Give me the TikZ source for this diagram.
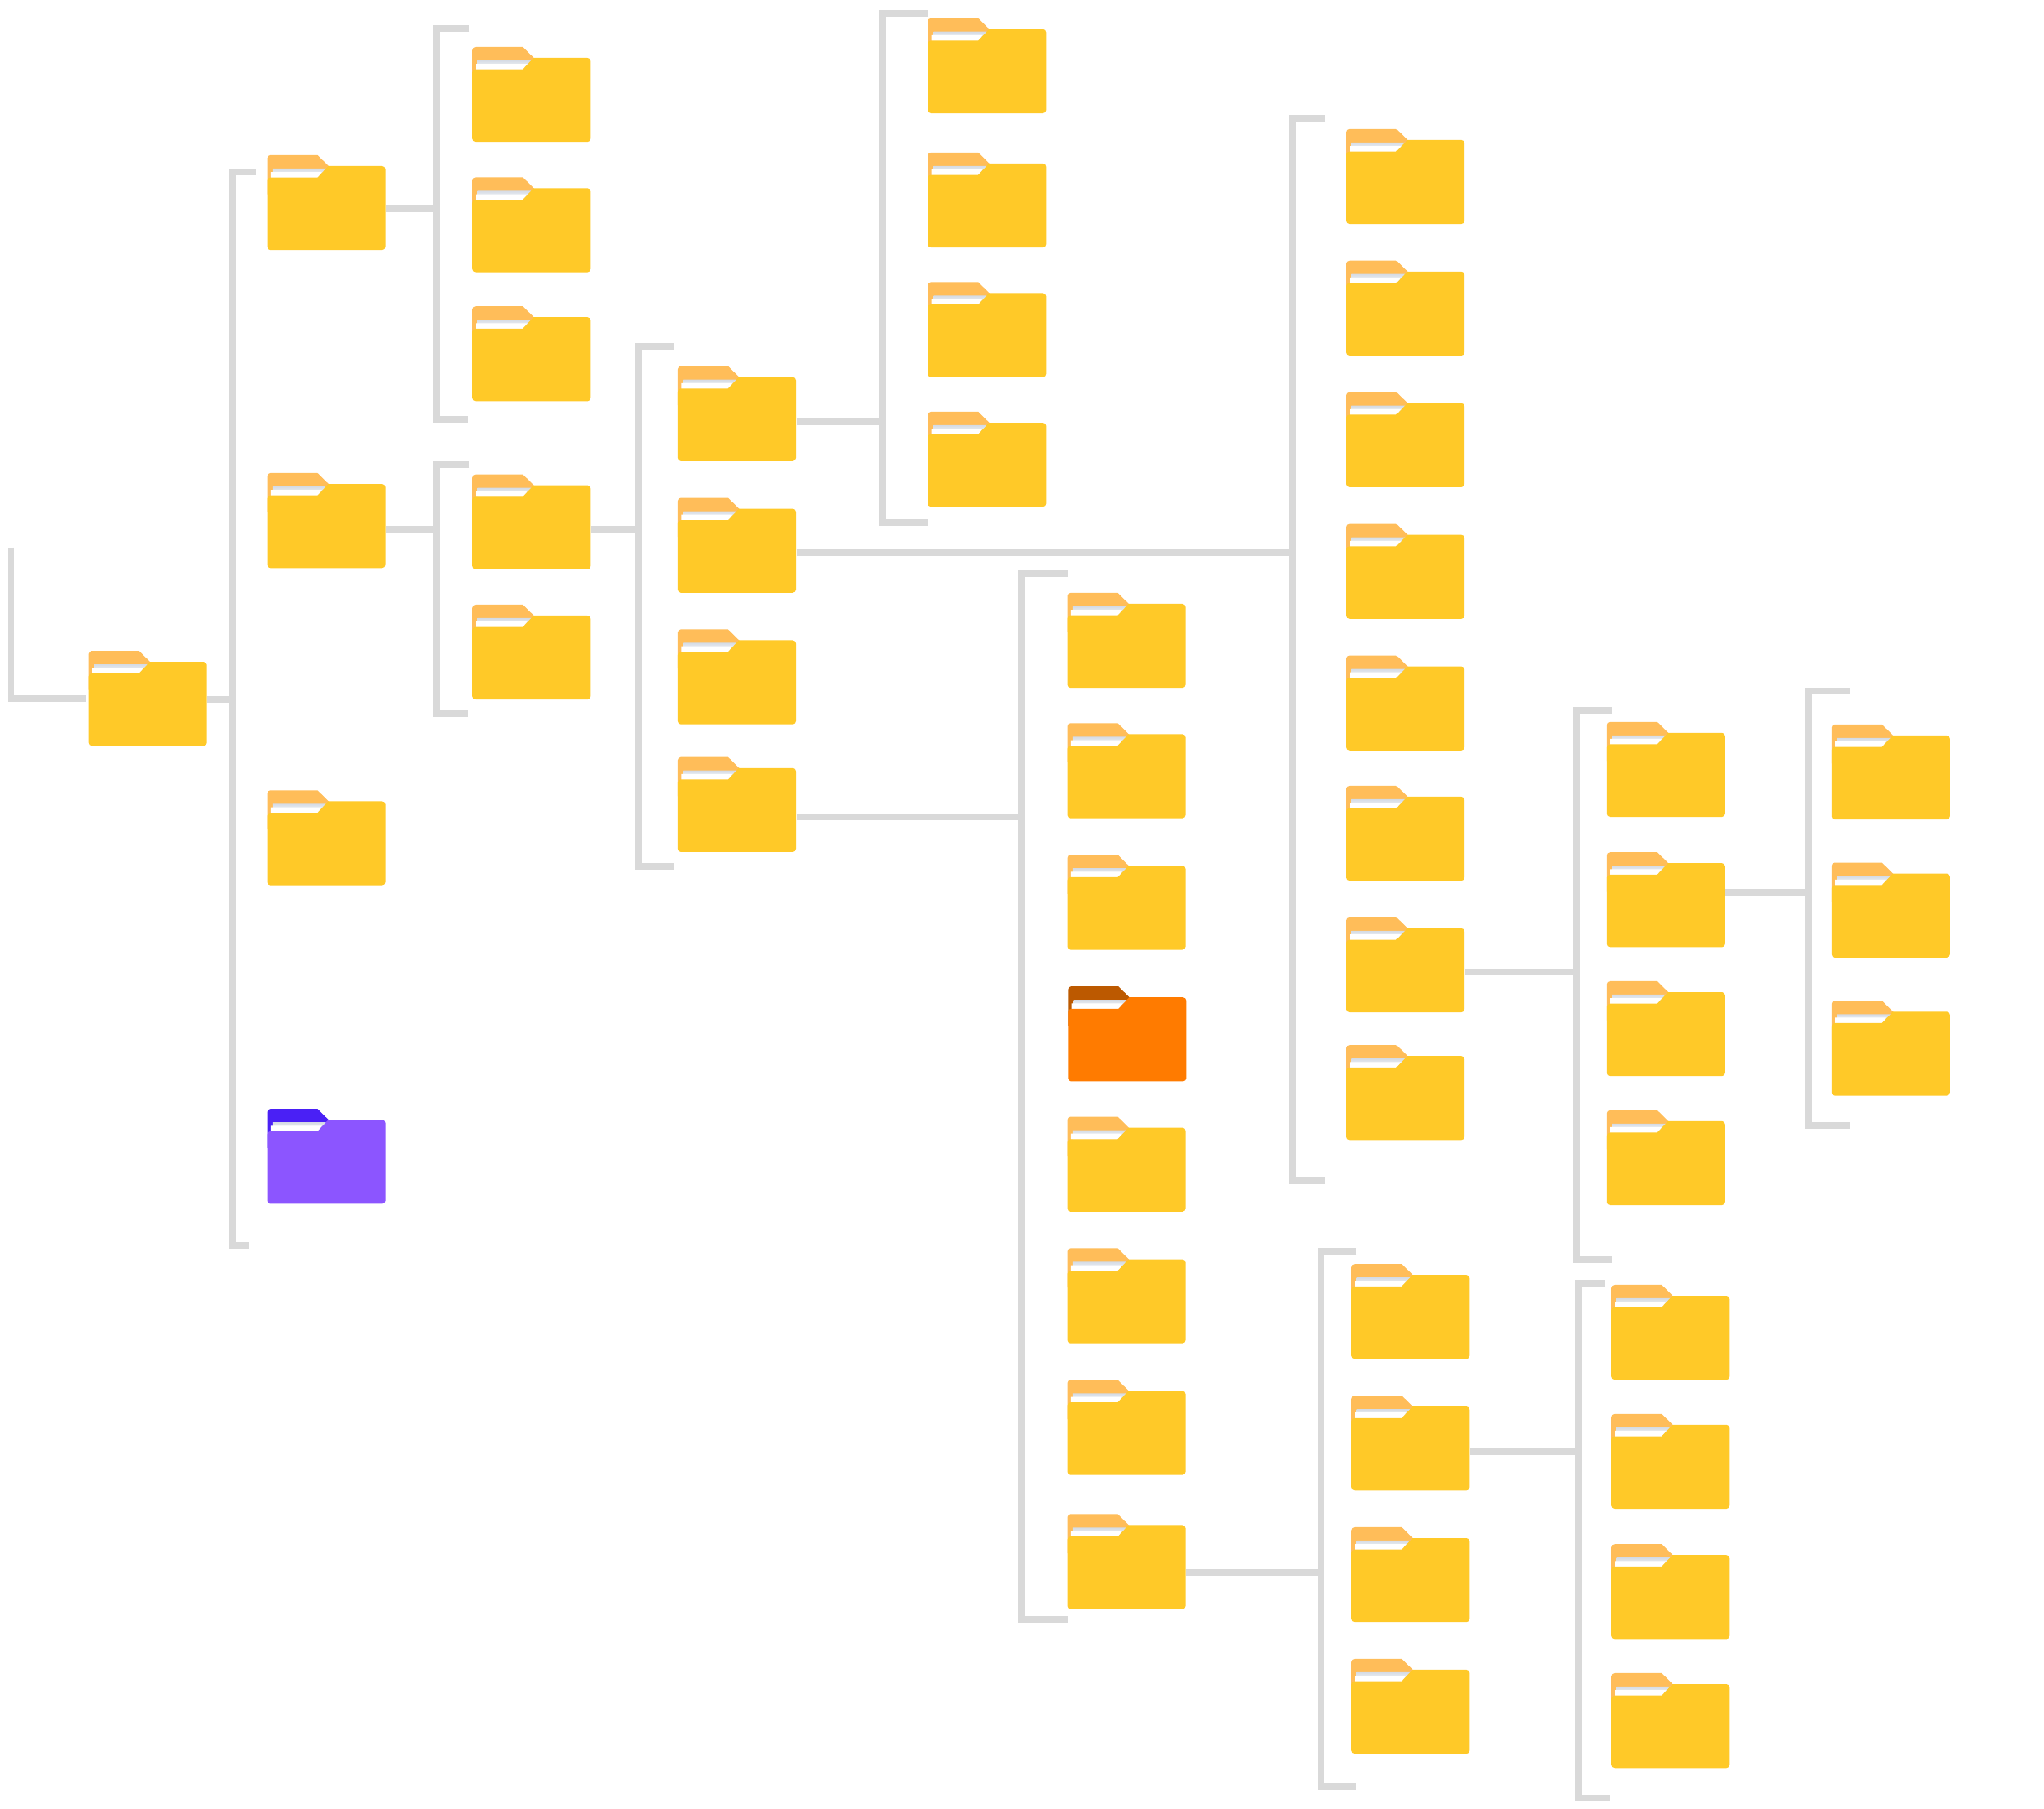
\documentclass[tikz,border=0pt]{standalone}
\usepackage{xcolor}
\usetikzlibrary{positioning}

\definecolor{frontY}{HTML}{FFC928}
\definecolor{tabY}{HTML}{FFBD59}
\definecolor{frontP}{HTML}{8C55FF}
\definecolor{tabP}{HTML}{4A20F5}
\definecolor{frontO}{HTML}{FF7B00}
\definecolor{tabO}{HTML}{BC5900}
\definecolor{paperG}{HTML}{D5DBE4}
\definecolor{lineG}{HTML}{D9D9D9}

\tikzset{
  folderbox/.style={anchor=north west, inner sep=0pt, minimum width=90.8pt, minimum height=72.9pt},
  branch/.style={draw=lineG, line width=5.15pt}
}

% name, left, top, front colour, tab colour
\newcommand{\folder}[5]{
  \begin{scope}[shift={(#2,#3)}]
    \fill[#5] (0,30) -- (0,2.5) arc[start angle=180, end angle=90, radius=2.5pt] -- (38.6,0) -- (47.4,8.6) -- (47.4,30) -- cycle;
    \shade[top color=paperG, bottom color=white] (4.1,10.3) -- (45.7,10.3) -- (38.6,17.5) -- (4.1,17.5) -- cycle;
    \fill[white] (2.8,13) -- (41.9,13) -- (38.6,17.5) -- (2.8,17.5) -- cycle;
    \fill[#4, rounded corners=2.5pt] (0,17.2) [sharp corners] -- (38.6,17.2) -- (47,8.4) [rounded corners=2.5pt] -- (90.8,8.4) -- (90.8,72.9) -- (0,72.9) -- cycle;
    \node (#1) [folderbox] at (0,0) {};
  \end{scope}
}
\newcommand{\yfolder}[3]{\folder{#1}{#2}{#3}{frontY}{tabY}}

\begin{document}
\begin{tikzpicture}[x=1pt,y=-1pt]
\useasboundingbox (0,0) rectangle (1568.5,1388);

% folders
\yfolder{root}{68}{499.5}

\yfolder{docs}{205}{119}
\yfolder{src}{205}{363}
\yfolder{misc}{205}{606.5}
\folder{spec}{205}{851}{frontP}{tabP}

\yfolder{docsA}{362.5}{36}
\yfolder{docsB}{362.5}{136}
\yfolder{docsC}{362.5}{235}
\yfolder{srcA}{362.5}{364}
\yfolder{srcB}{362.5}{464}

\yfolder{libA}{520}{281}
\yfolder{libB}{520}{382}
\yfolder{libC}{520}{483}
\yfolder{libD}{520}{581}

\yfolder{subA}{712}{14}
\yfolder{subB}{712}{117}
\yfolder{subC}{712}{216.5}
\yfolder{subD}{712}{316}

\yfolder{modA}{819}{455}
\yfolder{modB}{819}{555}
\yfolder{modC}{819}{656}
\folder{modD}{819.5}{757}{frontO}{tabO}
\yfolder{modE}{819}{857}
\yfolder{modF}{819}{958}
\yfolder{modG}{819}{1059}
\yfolder{modH}{819}{1162}

\yfolder{pkgA}{1033}{99}
\yfolder{pkgB}{1033}{200}
\yfolder{pkgC}{1033}{301}
\yfolder{pkgD}{1033}{402}
\yfolder{pkgE}{1033}{503}
\yfolder{pkgF}{1033}{603}
\yfolder{pkgG}{1033}{704}
\yfolder{pkgH}{1033}{802}

\yfolder{resA}{1037}{970}
\yfolder{resB}{1037}{1071}
\yfolder{resC}{1037}{1172}
\yfolder{resD}{1037}{1273}

\yfolder{binA}{1233}{554}
\yfolder{binB}{1233}{654}
\yfolder{binC}{1233}{753}
\yfolder{binD}{1233}{852}

\yfolder{tmpA}{1236.5}{986}
\yfolder{tmpB}{1236.5}{1085}
\yfolder{tmpC}{1236.5}{1185}
\yfolder{tmpD}{1236.5}{1284}

\yfolder{logA}{1405.5}{556}
\yfolder{logB}{1405.5}{662}
\yfolder{logC}{1405.5}{768}

% free end into the root
\coordinate (rootin) at (8.3,420);
\draw[branch, shorten >=2pt] (rootin) |- (root.west);

% brackets
\coordinate (rootT) at (196,132);
\coordinate (rootJ) at (178,537);
\coordinate (rootB) at (191,956);
\draw[branch] (rootT) -| (rootJ) |- (rootB);
\draw[branch] (root.east |- rootJ) -- (rootJ);

\coordinate (docsT) at (360,22);
\coordinate (docsJ) at (335,160);
\coordinate (docsB2) at (359,322);
\draw[branch] (docsT) -| (docsJ) |- (docsB2);
\draw[branch] (docs.east |- docsJ) -- (docsJ);

\coordinate (srcT) at (360,356.5);
\coordinate (srcJ) at (335,406);
\coordinate (srcB2) at (359,548);
\draw[branch] (srcT) -| (srcJ) |- (srcB2);
\draw[branch] (src.east |- srcJ) -- (srcJ);

\coordinate (srcAT) at (517,266);
\coordinate (srcAJ) at (490,406);
\coordinate (srcAB) at (517,665);
\draw[branch] (srcAT) -| (srcAJ) |- (srcAB);
\draw[branch] (srcA.east |- srcAJ) -- (srcAJ);

\coordinate (libAT) at (712,10);
\coordinate (libAJ) at (677,324);
\coordinate (libAB) at (712,401);
\draw[branch] (libAT) -| (libAJ) |- (libAB);
\draw[branch] (libA.east |- libAJ) -- (libAJ);

\coordinate (libBT) at (1017,90.5);
\coordinate (libBJ) at (992,424);
\coordinate (libBB) at (1017,906);
\draw[branch] (libBT) -| (libBJ) |- (libBB);
\draw[branch] (libB.east |- libBJ) -- (libBJ);

\coordinate (libDT) at (819,440);
\coordinate (libDJ) at (784,627);
\coordinate (libDB) at (819,1243);
\draw[branch] (libDT) -| (libDJ) |- (libDB);
\draw[branch] (libD.east |- libDJ) -- (libDJ);

\coordinate (modHT) at (1041,960);
\coordinate (modHJ) at (1014,1207);
\coordinate (modHB) at (1041,1371);
\draw[branch] (modHT) -| (modHJ) |- (modHB);
\draw[branch] (modH.east |- modHJ) -- (modHJ);

\coordinate (resBT) at (1232,984.5);
\coordinate (resBJ) at (1211,1114);
\coordinate (resBB) at (1235,1379.7);
\draw[branch] (resBT) -| (resBJ) |- (resBB);
\draw[branch] (resB.east |- resBJ) -- (resBJ);

\coordinate (pkgGT) at (1237,545);
\coordinate (pkgGJ) at (1210,746);
\coordinate (pkgGB) at (1237,967);
\draw[branch] (pkgGT) -| (pkgGJ) |- (pkgGB);
\draw[branch] (pkgG.east |- pkgGJ) -- (pkgGJ);

\coordinate (binBT) at (1419.6,530.4);
\coordinate (binBJ) at (1387.5,684.5);
\coordinate (binBB) at (1419.6,864);
\draw[branch] (binBT) -| (binBJ) |- (binBB);
\draw[branch] (binB.east |- binBJ) -- (binBJ);
\end{tikzpicture}
\end{document}
